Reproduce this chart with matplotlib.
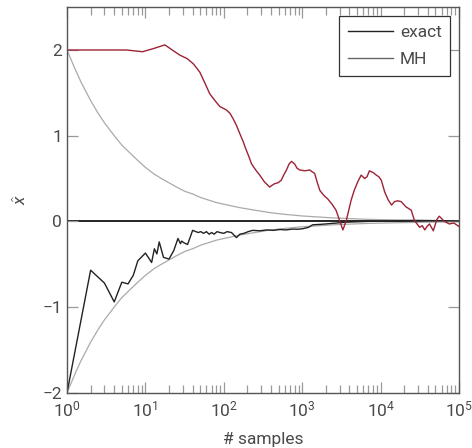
import matplotlib
matplotlib.use("Agg")
import matplotlib.pyplot as plt

plt.rcParams['font.family'] = ['Roboto', 'DejaVu Sans']
plt.rcParams['font.size'] = 12.5
plt.rcParams['mathtext.fontset'] = 'custom'
plt.rcParams['mathtext.rm'] = 'Roboto'
plt.rcParams['mathtext.it'] = 'Roboto:italic'
plt.rcParams['axes.unicode_minus'] = True
plt.rcParams['text.color'] = '#4a4a4a'
plt.rcParams['axes.labelcolor'] = '#4a4a4a'
plt.rcParams['xtick.labelcolor'] = '#4a4a4a'
plt.rcParams['ytick.labelcolor'] = '#4a4a4a'

# courbes de reference (gris)
ref_n = [1, 1.25, 1.5, 2, 2.5, 3, 4, 5, 6, 8, 10, 13, 16, 20, 25, 32, 40, 50, 63, 80,
         100, 160, 250, 400, 630, 1000, 2500, 6300, 16000, 40000, 100000]
ref_hi = [2.0, 1.79, 1.63, 1.41, 1.26, 1.15, 1.0, 0.89, 0.82, 0.71, 0.63, 0.55, 0.5, 0.45,
          0.4, 0.35, 0.32, 0.28, 0.25, 0.22, 0.2, 0.16, 0.13, 0.1, 0.08, 0.063, 0.04, 0.025,
          0.016, 0.01, 0.006]
ref_lo = [-2.0, -1.79, -1.63, -1.41, -1.26, -1.15, -1.0, -0.89, -0.82, -0.71, -0.63, -0.55,
          -0.5, -0.45, -0.4, -0.35, -0.32, -0.28, -0.25, -0.22, -0.2, -0.16, -0.13, -0.1,
          -0.08, -0.063, -0.04, -0.025, -0.016, -0.01, -0.006]

# estimateur exact (noir)
exact_n = [1, 2, 3, 4, 5, 6, 7, 8, 10, 12, 13, 14, 15, 17, 20, 23, 26, 28, 29, 31, 34.5,
           40, 44, 47, 51, 55, 60, 65, 70, 75, 82, 89, 100, 110, 125, 145, 160, 180, 205,
           233, 290, 350, 430, 520, 620, 750, 880, 1015, 1200, 1360, 1700, 2000, 2700,
           3500, 5000, 7000, 10000, 15000, 30000, 60000, 100000]
exact_x = [-2.0, -0.57, -0.72, -0.94, -0.71, -0.73, -0.63, -0.46, -0.37, -0.48, -0.32,
           -0.38, -0.24, -0.42, -0.44, -0.34, -0.20, -0.26, -0.23, -0.25, -0.27, -0.105,
           -0.12, -0.13, -0.12, -0.14, -0.12, -0.15, -0.13, -0.15, -0.12, -0.13, -0.14,
           -0.12, -0.13, -0.19, -0.15, -0.14, -0.12, -0.105, -0.11, -0.1, -0.105, -0.095,
           -0.1, -0.09, -0.092, -0.086, -0.07, -0.04, -0.035, -0.03, -0.02, -0.01, -0.005,
           0.0, 0.005, 0.008, 0.01, 0.008, 0.005]

# chaine MH (rouge)
mh_n = [1, 5.75, 9.2, 13, 17.7, 22, 27.5, 34, 40.7, 45, 49.5, 57, 66, 77, 89, 108, 120,
        131, 145, 159, 175, 190, 208, 226, 255, 287, 330, 385, 410, 445, 490, 540, 580,
        630, 680, 730, 800, 860, 930, 1080, 1250, 1330, 1440, 1560, 1680, 1900, 2125,
        2400, 2700, 3000, 3300, 3650, 4200, 4600, 5100, 5650, 6250, 6700, 7200, 8000,
        8800, 9500, 10200, 11300, 12500, 13800, 15000, 16500, 18300, 21000, 24600, 27000,
        31500, 34000, 36600, 39000, 42000, 47000, 52000, 56000, 65000, 75000, 86000,
        100000]
mh_x = [2.0, 2.0, 1.98, 2.02, 2.06, 2.0, 1.94, 1.9, 1.84, 1.79, 1.74, 1.62, 1.49, 1.41,
        1.34, 1.30, 1.26, 1.20, 1.12, 1.03, 0.94, 0.85, 0.76, 0.67, 0.60, 0.54, 0.46,
        0.40, 0.42, 0.44, 0.45, 0.48, 0.54, 0.60, 0.67, 0.70, 0.67, 0.62, 0.60, 0.59,
        0.60, 0.58, 0.56, 0.45, 0.36, 0.30, 0.26, 0.20, 0.13, 0.01, -0.10, 0.01, 0.245,
        0.36, 0.46, 0.54, 0.50, 0.52, 0.59, 0.57, 0.54, 0.52, 0.48, 0.34, 0.25, 0.19,
        0.23, 0.24, 0.23, 0.17, 0.13, 0.01, -0.07, -0.05, -0.1, -0.06, -0.03, -0.11,
        0.02, 0.06, 0.0, -0.03, -0.02, -0.06]

fig = plt.figure(figsize=(4.72, 4.48), dpi=100)
ax = fig.add_axes([0.142, 0.1234, 0.8305, 0.8606])

ax.axhline(0, color='black', lw=1.2, zorder=1)
ax.plot(ref_n, ref_hi, color='#aaaaaa', lw=0.9)
ax.plot(ref_n, ref_lo, color='#aaaaaa', lw=0.9)
ax.plot(exact_n, exact_x, color='#222222', lw=1.0)
ax.plot(mh_n, mh_x, color='#9e2236', lw=1.0)

ax.set_xscale('log')
ax.set_xlim(1, 1e5)
ax.set_ylim(-2, 2.5)
ax.set_yticks([-2, -1, 0, 1, 2])
ax.set_xlabel('# samples', labelpad=9)
ax.set_ylabel(r'$\hat{x}$', labelpad=10)

ax.tick_params(which='both', direction='in', top=True, right=True, color='#999999',
               width=0.9)
ax.tick_params(which='major', length=8)
ax.tick_params(which='minor', length=5.5)
ax.tick_params(axis='x', pad=5)
for s in ax.spines.values():
    s.set_color('#555555')
    s.set_linewidth(1.0)

h1, = ax.plot([], [], color='#222222', lw=1.0)
h2, = ax.plot([], [], color='#666666', lw=1.0)
leg = ax.legend([h1, h2], ['exact', 'MH'], loc='upper right', fancybox=False,
                framealpha=1, edgecolor='#333333', borderaxespad=0.5, handlelength=2.6,
                handletextpad=0.4, labelspacing=0.7, borderpad=0.5)
leg.get_frame().set_linewidth(0.9)

fig.savefig('out.png', dpi=100)
